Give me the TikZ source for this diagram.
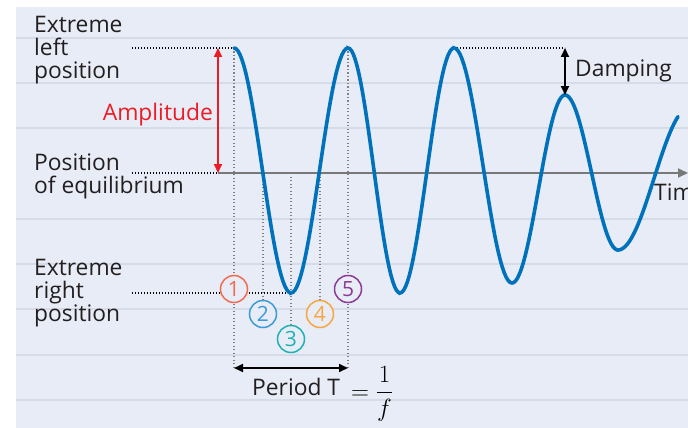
\documentclass[tikz,border=0pt]{standalone}
\usepackage{amsmath}
\usepackage{fontspec}
\setmainfont{Open Sans}
\usepackage{tikz}
\usetikzlibrary{arrows.meta}

\definecolor{bgblue}{RGB}{232,236,246}
\definecolor{gridgray}{RGB}{214,219,232}
\definecolor{waveblue}{RGB}{0,114,188}
\definecolor{amplred}{RGB}{237,28,36}
\definecolor{txtgray}{RGB}{35,31,32}
\definecolor{axisgray}{RGB}{120,120,120}
\definecolor{numone}{RGB}{242,106,79}
\definecolor{numtwo}{RGB}{58,154,217}
\definecolor{numthree}{RGB}{28,178,180}
\definecolor{numfour}{RGB}{247,166,66}
\definecolor{numfive}{RGB}{139,58,150}

\begin{document}
\begin{tikzpicture}[x=1pt,y=-1pt,
  lbl/.style={text=txtgray,font=\fontsize{22.8}{23}\selectfont,align=left,inner sep=0pt},
  guide/.style={black,line width=1.3pt,dash pattern=on 1.3pt off 1.7pt},
  vguide/.style={gray,line width=1.1pt,dash pattern=on 1.1pt off 2.4pt},
  wave/.style={waveblue,line width=3.6pt},
  dimarrow/.style={line width=1.8pt,{Triangle[length=9pt,width=8pt]}-{Triangle[length=9pt,width=8pt]}},
  numbox/.style={circle,draw=#1,fill=bgblue,text=#1,line width=1.5pt,minimum size=27pt,inner sep=0pt,font=\fontsize{21}{21}\selectfont}]
  \useasboundingbox (0,0) rectangle (688,428);
  % Background and grid
  \fill[bgblue] (16,7) rectangle (688,428);
  \foreach \y in {38,83,128,219,264,309,355,400}
    \draw[gridgray,line width=1.4pt] (16,\y) -- (688,\y);
  % Key points
  \coordinate (pk1) at (234,48);
  \coordinate (pk2) at (348,48);
  \coordinate (pk3) at (454,48);
  \coordinate (pk4) at (565,95);
  \coordinate (dtop) at (565,48);
  \coordinate (tr1) at (291,293);
  \coordinate (eq) at (218,173);
  \coordinate (amptop) at (218,48);
  \coordinate (axend) at (688,173);
  \coordinate (z1) at (263,173);
  \coordinate (z2) at (320,173);
  \coordinate (z3) at (291,173);
  \coordinate (perl) at (234,368);
  \coordinate (perr) at (348,368);
  \coordinate (gl) at (132,48);
  \coordinate (ge) at (132,173);
  \coordinate (gr) at (132,293);
  % Time axis
  \draw[axisgray,line width=2pt,-{Triangle[length=10pt,width=9pt]}] (eq) -- (axend);
  \node[lbl,anchor=base west] (time) at (654,200) {Time};
  % Dotted guides
  \draw[guide] (gl) -- (pk1);
  \draw[guide] (ge) -- (eq);
  \draw[guide] (gr) -- (tr1);
  \draw[guide] (pk3) -- (dtop);
  \draw[vguide] (pk1) -- (perl);
  \draw[vguide] (pk2) -- (perr);
  % Positions 1 to 5
  \node[numbox=numone] (n1) at (234,289) {1};
  \node[numbox=numtwo] (n2) at (263,314) {2};
  \node[numbox=numthree] (n3) at (291,339) {3};
  \node[numbox=numfour] (n4) at (320,314) {4};
  \node[numbox=numfive] (n5) at (348,289) {5};
  \draw[vguide] (z1) -- (n2.north);
  \draw[vguide] (z3) -- (n3.north);
  \draw[vguide] (z2) -- (n4.north);
  % Damped oscillation, half period by half period
  \draw[wave,line cap=round] (pk1)
    \foreach \xa/\ya/\xb/\yb/\xe in {234/125/291/-120/291, 291/-120/348/125/348,
      348/125/400/-120/400, 400/-120/454/125/454, 454/125/512/-110/512,
      512/-110/565/78/565, 565/78/618/-77/618, 618/-77/690/66/678}
    { -- plot[domain=\xa:\xe,samples=30] (\x,{173-((\ya+\yb)/2+(\ya-\yb)/2*cos(180*(\x-\xa)/(\xb-\xa)))}) };
  % Labels (base = last line)
  \node[lbl,anchor=base west] (leftpos) at (34,78) {Extreme\\left\\position};
  \node[lbl,anchor=base west] (eqpos) at (34,193) {Position\\of equilibrium};
  \node[lbl,anchor=base west] (rightpos) at (34,321) {Extreme\\right\\position};
  % Amplitude
  \draw[dimarrow,amplred] (amptop) -- (eq);
  \node[lbl,text=amplred,anchor=east] (ampl) at (213,115) {Amplitude};
  % Damping
  \draw[dimarrow,black] (dtop) -- (pk4);
  \node[lbl,anchor=base west] (damp) at (575,77) {Damping};
  % Period
  \draw[dimarrow,black] (perl) -- (perr);
  \node[lbl,anchor=base west] (period) at (252,395) {Period T};
  \node[anchor=base west,inner sep=0pt,font=\fontsize{24}{24}\selectfont] (freq) at (351,399) {$=\dfrac{1}{f}$};
\end{tikzpicture}
\end{document}
